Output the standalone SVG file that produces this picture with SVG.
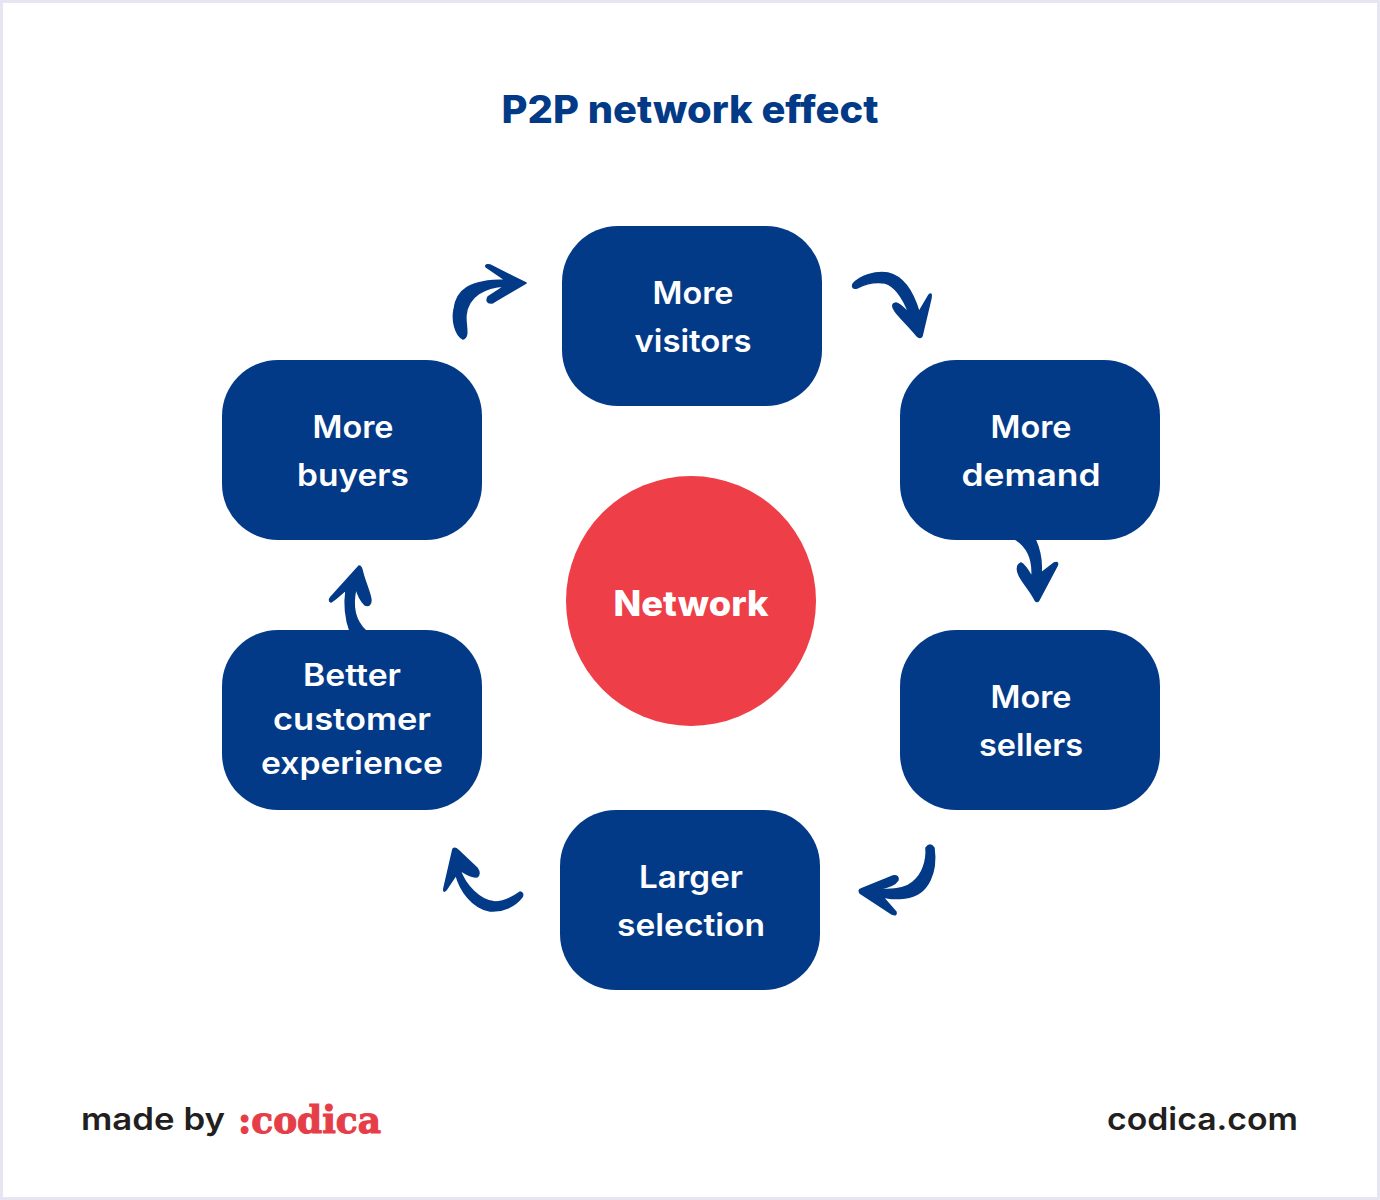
<svg xmlns="http://www.w3.org/2000/svg" width="1380" height="1200" viewBox="0 0 1380 1200">
<style>
.box{fill:#033a87}
.arrow{fill:#033a87;stroke:#033a87;stroke-width:1.5;stroke-linejoin:round}
text{font-family:"Inter","Noto Sans",sans-serif;text-anchor:middle}
.t{font-size:31px;font-weight:600;fill:#fff}
.foot{font-size:31px;font-weight:600;fill:#231f20}
</style>
<rect x="1.5" y="1.5" width="1377" height="1197" fill="#fff" stroke="#e6e6f2" stroke-width="3"/>
<text id="title" x="690" y="123" font-size="38" font-weight="800" fill="#033a87" textLength="377" lengthAdjust="spacingAndGlyphs">P2P network effect</text>
<g id="connectors">
<path class="arrow" d="M463 339C455 335 452 320 454 310C456 290 470 280 505 280L486 267Q485 264 490 265L526 283L492 303Q485 303 488 297L505 286C485 287 468 296 466 315C465 325 470 337 463 339Z"/>
<path class="arrow" d="M853 284C860 276 875 271 888 273C905 277 914 295 919 312L929 295Q932 292 931 298L922 336Q920 339 917 336C908 325 900 318 895 311Q890 304 896 303C901 304 905 310 909 313C903 298 895 286 885 283C873 281 865 284 857 288Q851 289 853 284Z"/>
<path class="arrow" d="M1015 539L1035 539C1040 550 1042 562 1041 573L1054 563Q1059 561 1057 566L1039 600Q1037 603 1035 600C1030 590 1022 582 1019 575Q1015 566 1021 563C1025 565 1029 572 1032 577C1033 562 1030 548 1015 539Z"/>
<path class="arrow" d="M926 848Q930 842 934 848C937 870 930 895 905 898C897 899 888 899 882 896L896 912Q897 916 892 914L860 893Q858 890 861 889L893 876Q899 875 898 880C895 885 885 888 878 889C890 890 905 889 913 882C923 874 927 860 926 848Z"/>
<path class="arrow" d="M453 849Q455 847 458 850L477 868Q481 874 477 877C470 877 465 873 460 870C465 885 480 901 495 902C505 902 513 897 520 892Q524 893 522 897C515 906 503 912 490 911C472 908 460 890 456 875L446 890Q443 893 444 888Z"/>
<path class="arrow" d="M359 566Q361 566 362 570C364 580 370 592 371 600Q371 607 365 605C360 600 357 592 356 588C352 605 354 620 366 631L350 631C346 620 344 605 346 590C340 595 335 600 331 602Q328 601 331 597Z"/>
</g>
<g id="node-visitors"><rect class="box" x="562" y="226" width="260" height="180" rx="56"/><text class="t" x="693" y="304" textLength="81" lengthAdjust="spacingAndGlyphs">More</text><text class="t" x="693" y="352" textLength="117" lengthAdjust="spacingAndGlyphs">visitors</text></g>
<g id="node-demand"><rect class="box" x="900" y="360" width="260" height="180" rx="56"/><text class="t" x="1031" y="438" textLength="81" lengthAdjust="spacingAndGlyphs">More</text><text class="t" x="1031" y="486" textLength="139" lengthAdjust="spacingAndGlyphs">demand</text></g>
<g id="node-sellers"><rect class="box" x="900" y="630" width="260" height="180" rx="56"/><text class="t" x="1031" y="708" textLength="81" lengthAdjust="spacingAndGlyphs">More</text><text class="t" x="1031" y="756" textLength="104" lengthAdjust="spacingAndGlyphs">sellers</text></g>
<g id="node-selection"><rect class="box" x="560" y="810" width="260" height="180" rx="56"/><text class="t" x="691" y="888" textLength="104" lengthAdjust="spacingAndGlyphs">Larger</text><text class="t" x="691" y="936" textLength="148" lengthAdjust="spacingAndGlyphs">selection</text></g>
<g id="node-experience"><rect class="box" x="222" y="630" width="260" height="180" rx="56"/><text class="t" x="352" y="686" textLength="98" lengthAdjust="spacingAndGlyphs">Better</text><text class="t" x="352" y="730" textLength="158" lengthAdjust="spacingAndGlyphs">customer</text><text class="t" x="352" y="774" textLength="182" lengthAdjust="spacingAndGlyphs">experience</text></g>
<g id="node-buyers"><rect class="box" x="222" y="360" width="260" height="180" rx="56"/><text class="t" x="353" y="438" textLength="81" lengthAdjust="spacingAndGlyphs">More</text><text class="t" x="353" y="486" textLength="112" lengthAdjust="spacingAndGlyphs">buyers</text></g>
<g id="node-network"><circle cx="691" cy="601" r="125" fill="#ee3e48"/><text x="691" y="616" font-size="35" font-weight="800" fill="#fff" textLength="155" lengthAdjust="spacingAndGlyphs">Network</text></g>
<text class="foot" x="153" y="1130" textLength="144" lengthAdjust="spacingAndGlyphs">made by</text>
<text x="309.500" y="1133" font-size="38" font-weight="700" fill="#e63e48" stroke="#e63e48" stroke-width="1.2" style="font-family:'DejaVu Serif','Liberation Serif',serif" textLength="143" lengthAdjust="spacingAndGlyphs">:codica</text>
<text class="foot" x="1202.500" y="1130" textLength="191" lengthAdjust="spacingAndGlyphs">codica.com</text>
</svg>
